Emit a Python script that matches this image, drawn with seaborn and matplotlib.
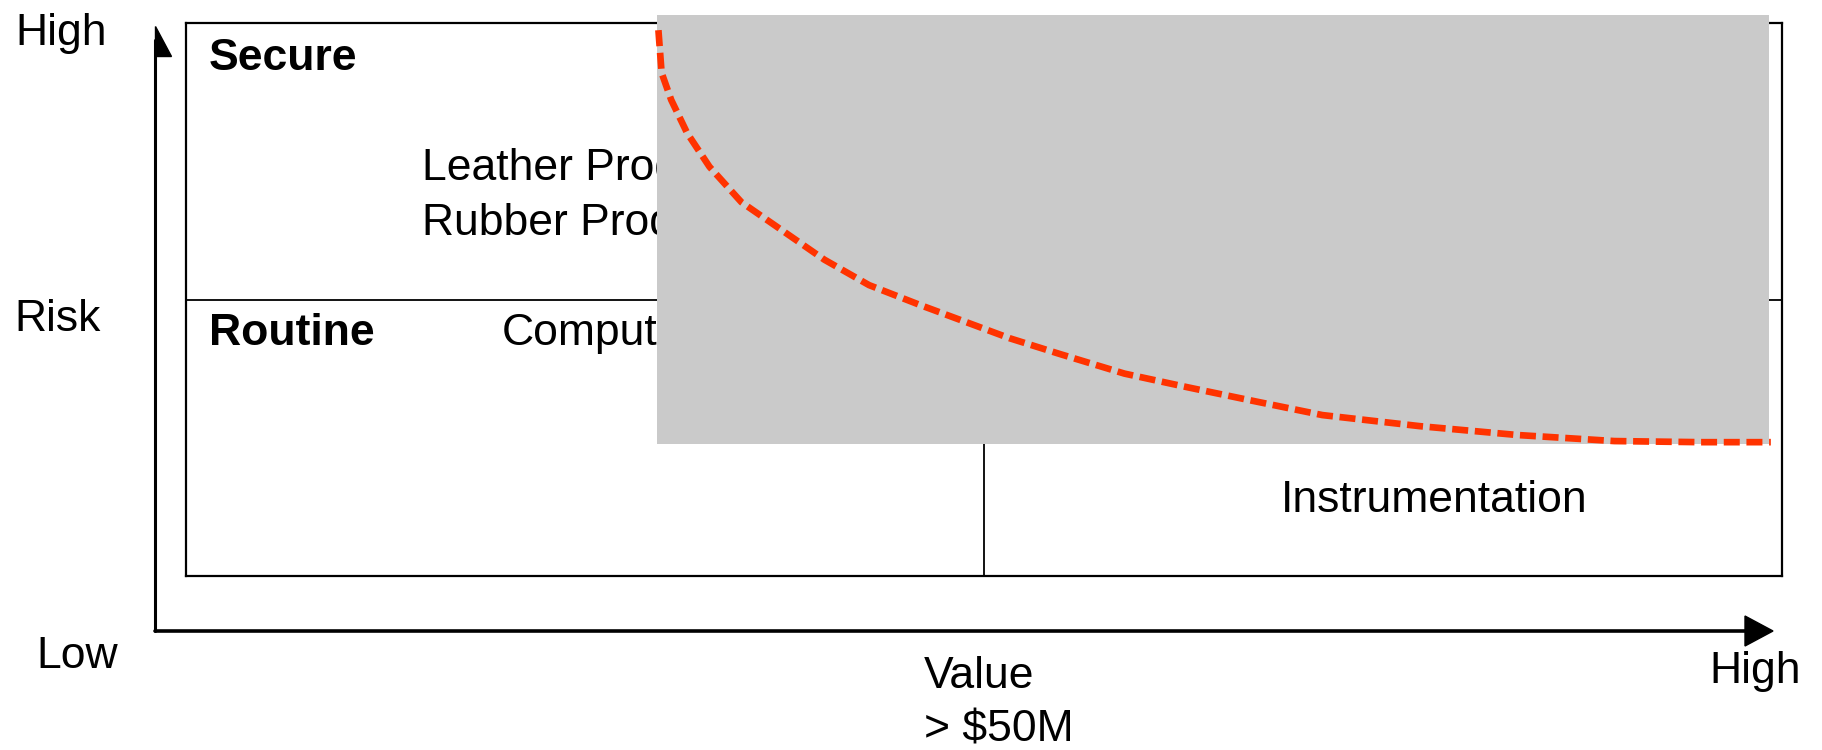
import matplotlib
matplotlib.use("Agg")
import matplotlib.pyplot as plt
from matplotlib.patches import Rectangle, Polygon
import pandas as pd
import seaborn as sns

# Risk / value curve (value on x, risk on y, both 0..1 inside the quadrant box)
curve_value = [0.296, 0.298, 0.304, 0.314, 0.328, 0.348, 0.376, 0.400, 0.428,
               0.460, 0.488, 0.516, 0.548, 0.588, 0.628, 0.668, 0.712, 0.773,
               0.834, 0.895, 0.949, 0.993]
curve_risk = [0.987, 0.910, 0.861, 0.801, 0.740, 0.676, 0.620, 0.572, 0.526,
              0.490, 0.460, 0.430, 0.401, 0.366, 0.341, 0.317, 0.291, 0.271,
              0.255, 0.244, 0.242, 0.242]

quadrant_titles = ["Secure", "Routine"]
secure_items = ["Leather Products", "Rubber Products"]
routine_items = ["Computers"]
high_value_items = ["Instrumentation"]
y_words = ["High", "Risk", "Low"]
x_words = ["Value", "> $50M", "High"]

W, H = 1822, 750

sns.set_theme(style="white")
plt.rcParams["font.family"] = ["Liberation Sans", "DejaVu Sans"]
plt.rcParams["text.color"] = "black"

fig = plt.figure(figsize=(W / 100, H / 100), dpi=100)
fig.patch.set_facecolor("white")

# quadrant box
ax = fig.add_axes([186 / W, 1 - 576 / H, 1596 / W, 553 / H])
ax.set_xlim(0, 1)
ax.set_ylim(0, 1)
ax.set_xticks([])
ax.set_yticks([])
for s in ax.spines.values():
    s.set_color("black")
    s.set_linewidth(1.6)

ax.axhline(0.5, color="black", lw=1.3, zorder=1)
ax.axvline(0.5, color="black", lw=1.3, zorder=1)


def put(px, py, s, bold=False, z=3):
    # place text by pixel position (baseline), drawn inside ax so the grey panel can cover it
    ax.text(px / W, 1 - py / H, s, transform=fig.transFigure, fontsize=32,
            fontweight="bold" if bold else "normal", va="baseline", ha="left",
            color="black", zorder=z, clip_on=False)


put(209, 70, quadrant_titles[0], bold=True)
put(209, 345, quadrant_titles[1], bold=True)
put(422, 180, secure_items[0], z=2)
put(422, 235, secure_items[1], z=2)
put(502, 345, routine_items[0], z=2)
put(1281, 512, high_value_items[0])

put(15, 45, y_words[0])
put(14, 331, y_words[1])
put(36, 668, y_words[2])
put(924, 688, x_words[0])
put(924, 741, x_words[1])
put(1709, 683, x_words[2])

# grey panel covering part of the chart
ax.add_patch(Rectangle((0.295, 0.239), 0.697, 0.775, facecolor="#cacaca",
                       edgecolor="none", clip_on=False, zorder=5))

curve = pd.DataFrame({"value": curve_value, "risk": curve_risk})
sns.lineplot(data=curve, x="value", y="risk", ax=ax, color="#ff3300", lw=4.8,
             sort=False, zorder=6, clip_on=False)
ax.lines[-1].set_dashes((2.4, 1.0))
ax.set_xlabel("")
ax.set_ylabel("")

# axis arrows
ov = fig.add_axes([0, 0, 1, 1], facecolor="none")
ov.set_xlim(0, W)
ov.set_ylim(H, 0)
ov.axis("off")
ov.plot([155, 155], [631, 40], color="black", lw=2.2)
ov.plot([155, 1750], [631, 631], color="black", lw=2.6)
ov.add_patch(Polygon([[155, 26], [155, 56], [171, 56]], closed=True, color="black"))
ov.add_patch(Polygon([[1745, 616], [1745, 646], [1773, 631]], closed=True, color="black"))

fig.savefig("out.png", dpi=100, facecolor="white")
